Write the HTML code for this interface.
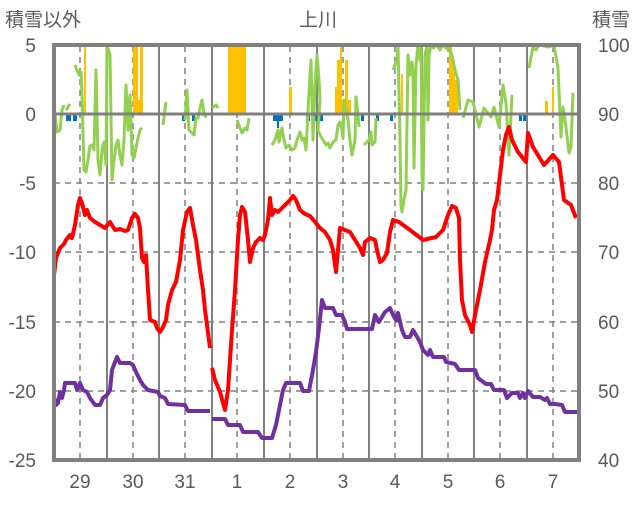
<!DOCTYPE html>
<html><head><meta charset="utf-8"><style>
body{margin:0;background:#fff}
svg text{font-family:"Liberation Sans","Noto Sans CJK JP",sans-serif;fill:#595959;font-size:19px}
</style></head><body>
<svg width="636" height="501" xmlns="http://www.w3.org/2000/svg">
<rect width="636" height="501" fill="#fff"/>
<g stroke="#808080" stroke-width="1.5" stroke-dasharray="6,5">
<line x1="54" y1="183" x2="579" y2="183"/><line x1="54" y1="252" x2="579" y2="252"/><line x1="54" y1="322" x2="579" y2="322"/><line x1="54" y1="391" x2="579" y2="391"/>
<line x1="80" y1="46" x2="80" y2="460"/><line x1="133" y1="46" x2="133" y2="460"/><line x1="185" y1="46" x2="185" y2="460"/><line x1="237" y1="46" x2="237" y2="460"/><line x1="290" y1="46" x2="290" y2="460"/><line x1="343" y1="46" x2="343" y2="460"/><line x1="395" y1="46" x2="395" y2="460"/><line x1="448" y1="46" x2="448" y2="460"/><line x1="500" y1="46" x2="500" y2="460"/><line x1="553" y1="46" x2="553" y2="460"/>
</g>
<g stroke="#808080" stroke-width="2">
<line x1="107" y1="46" x2="107" y2="460"/><line x1="159" y1="46" x2="159" y2="460"/><line x1="212" y1="46" x2="212" y2="460"/><line x1="264" y1="46" x2="264" y2="460"/><line x1="317" y1="46" x2="317" y2="460"/><line x1="369" y1="46" x2="369" y2="460"/><line x1="422" y1="46" x2="422" y2="460"/><line x1="474" y1="46" x2="474" y2="460"/><line x1="527" y1="46" x2="527" y2="460"/>
</g>
<g fill="#FFC000">
<rect x="84" y="46" width="2" height="68"/><rect x="133" y="46" width="5" height="68"/><rect x="138" y="100" width="2" height="14"/><rect x="140" y="46" width="3" height="68"/><rect x="228" y="46" width="18" height="68"/><rect x="289" y="87" width="3" height="27"/>
<rect x="335" y="87" width="2" height="27"/><rect x="337" y="60" width="3" height="54"/><rect x="340" y="46" width="2" height="68"/><rect x="342" y="100" width="3" height="14"/><rect x="345" y="60" width="3" height="54"/><rect x="348" y="100" width="3" height="14"/><rect x="401" y="74" width="2" height="40"/>
<rect x="449" y="46" width="3" height="68"/><rect x="452" y="60" width="3" height="54"/><rect x="455" y="80" width="3" height="34"/><rect x="545" y="101" width="3" height="13"/><rect x="552" y="87" width="2" height="27"/>
</g>
<g fill="#0070C0">
<rect x="66" y="114" width="5" height="7"/><rect x="73" y="114" width="4" height="7"/><rect x="182" y="114" width="3" height="7"/><rect x="192" y="114" width="3" height="7"/><rect x="273" y="114" width="10" height="7"/><rect x="277" y="114" width="2" height="14"/><rect x="306" y="114" width="4" height="7"/><rect x="315" y="114" width="5" height="7"/><rect x="318" y="114" width="5" height="7"/><rect x="361" y="114" width="3" height="7"/><rect x="376" y="114" width="3" height="7"/><rect x="390" y="114" width="3" height="7"/><rect x="519" y="114" width="3" height="7"/><rect x="523" y="114" width="3" height="7"/>
</g>
<g fill="none" stroke="#92D050" stroke-width="3" stroke-linejoin="round">
<polyline points="54,105 57,132 60,130 62,110 64,105"/>
<polyline points="66,110 70,104"/>
<polyline points="75,65 79,75 81,72 82,95 84,170 86,172 88,160 90,146 92,145 94,150 96,70 98,160 100,175 102,150 104,142 106,165 107,45 110,55 112,180 114,160 116,145 118,140 120,155 122,165 124,140 126,85 128,130 130,95 132,155 134,158 136,148 138,138 140,130 142,128"/>
<polyline points="163,125 166,102"/>
<polyline points="185,120 187,90 189,130 192,133 194,135 196,118 198,118 200,108 202,100 204,113 206,118"/>
<polyline points="212,108 216,105 218,108"/>
<polyline points="237,120 242,133 245,128 247,130 249,118"/>
<polyline points="272,145 275,140 278,130 279,142 282,128 284,140 286,148 289,145 292,150 295,148 297,140 300,132 302,140 304,138 306,150 309,92 311,60 313,140 315,85 317,55 319,80 320,100 318,130 320,135 323,140 326,145 328,143 330,148 333,142 336,140 338,125 340,122 342,130 343,138 344,100 346,110 348,120 350,140 352,155 355,140 356,97 358,115 359,127"/>
<polyline points="364,145 366,143 369,140 371,132 372,145 375,142 376,118"/>
<polyline points="393,70 397,60 398,45 400,140 401,205 402,212 404,200 406,190 408,55 410,75 412,62 413,70 414,168 416,65 418,45 420,60 421,45 422,175 423,190 425,55 427,45 428,120 429,55 431,45 433,48 437,45 440,50 443,45 446,48 450,50 452,56 455,70 458,80 460,110"/>
<polyline points="463,118 468,100 473,102 479,127 484,108 491,117 494,107 499,127 503,85 506,103 509,155 512,95"/>
<polyline points="529,68 533,47 536,50 539,45 549,47 554,45 558,68 561,137 563,107 566,127 569,153 571,147 573,93"/>
</g>
<g fill="none" stroke="#FF0000" stroke-width="4" stroke-linejoin="round">
<polyline points="54,275 56,258 60,248 64,244 66,240 70,235 72,238 75,225 78,205 80,198 82,203 85,215 87,210 90,218 95,222 100,225 105,228 110,222 115,230 120,229 125,231 128,230 132,218 135,214 138,218 140,228 142,258 144,262 146,255 148,290 150,320 155,322 157,328 160,332 163,327 166,320 168,305 172,290 176,282 180,260 183,230 187,212 190,208 193,225 196,240 200,270 203,290 205,310 207,325 210,348"/>
<polyline points="212,368 215,380 220,392 225,410 228,390 232,330 235,290 238,240 240,215 242,207 245,212 248,240 250,262 253,248 256,242 260,238 263,240 265,235 268,220 270,198 272,215 275,210 278,212 282,208 285,205 290,200 293,196 296,200 300,210 305,214 310,216 315,222 320,228 325,232 330,240 333,250 336,272 338,250 340,228 345,230 350,232 355,240 360,248 363,255 365,242 370,238 375,240 377,250 380,262 383,260 387,253 390,232 393,220 399,222 410,230 423,240 436,237 443,230 448,215 452,206 456,208 459,218 460,260 462,300 465,315 470,325 472,332 475,315 480,290 485,262 490,240 492,230 494,210 497,200 500,175 503,150 506,135 509,127 512,140 518,152 526,162 528,133 533,147 544,165 553,155 559,162 564,200 571,205 576,218"/>
</g>
<polyline fill="none" stroke="#7030A0" stroke-width="4" stroke-linejoin="round" points="54,397 56,405 58,403 60,392 62,398 64,390 65,383 75,383 77,390 80,383 83,390 87,392 90,398 95,405 100,405 103,398 107,395 110,390 112,370 115,362 117,357 120,363 130,363 133,365 136,372 140,380 143,385 148,390 158,392 160,396 165,398 168,404 185,405 188,411 210,411"/>
<polyline fill="none" stroke="#7030A0" stroke-width="4" stroke-linejoin="round" points="212,419 225,419 228,425 240,425 243,432 258,432 262,438 272,438 276,425 279,410 283,390 286,383 300,383 303,391 309,391 313,370 316,352 319,328 322,300 325,308 333,308 336,315 342,315 345,322 347,329 372,329 375,315 379,322 385,312 390,308 393,315 396,320 398,313 402,330 405,337 410,337 413,330 416,335 420,342 423,350 428,355 430,350 433,357 444,357 446,362 455,364 459,370 475,370 478,378 486,384 491,384 494,390 504,390 507,398 512,393 518,393 520,398 523,393 525,398 528,391 533,397 540,397 545,400 547,398 550,404 555,404 562,405 565,412 578,412"/>
<line x1="54" y1="114" x2="579" y2="114" stroke="#808080" stroke-width="3"/>
<rect x="54" y="45" width="525" height="415" fill="none" stroke="#808080" stroke-width="4"/>
<text x="5" y="26">積雪以外</text>
<text x="318" y="26" text-anchor="middle">上川</text>
<text x="630" y="26" text-anchor="end">積雪</text>
<g text-anchor="end">
<text x="36" y="52">5</text><text x="36" y="121">0</text><text x="36" y="190">-5</text><text x="36" y="259">-10</text><text x="36" y="329">-15</text><text x="36" y="398">-20</text><text x="36" y="467">-25</text>
</g>
<g>
<text x="598" y="52">100</text><text x="598" y="121">90</text><text x="598" y="190">80</text><text x="598" y="259">70</text><text x="598" y="329">60</text><text x="598" y="398">50</text><text x="598" y="467">40</text>
</g>
<g text-anchor="middle">
<text x="80" y="488">29</text><text x="133" y="488">30</text><text x="185" y="488">31</text><text x="237" y="488">1</text><text x="290" y="488">2</text><text x="343" y="488">3</text><text x="395" y="488">4</text><text x="448" y="488">5</text><text x="500" y="488">6</text><text x="553" y="488">7</text>
</g>
</svg>
</body></html>
